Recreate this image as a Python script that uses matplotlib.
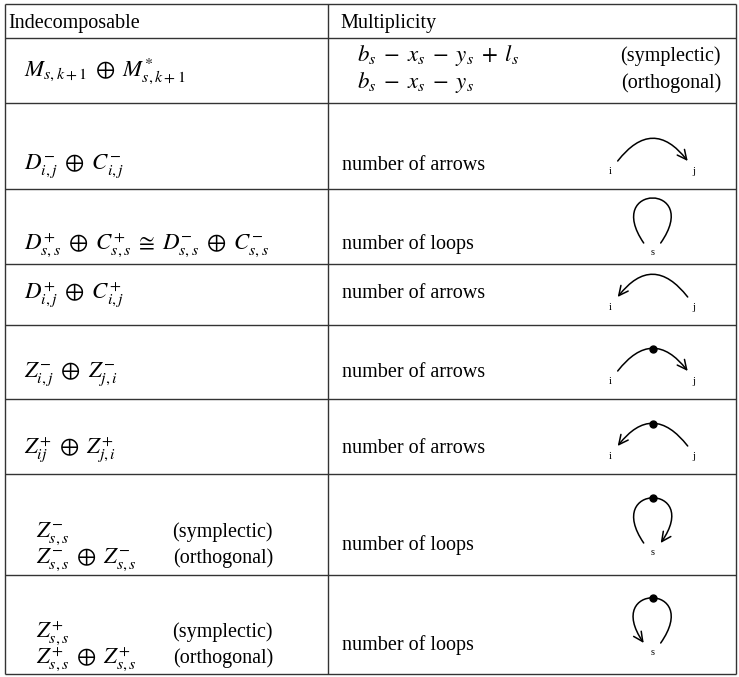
import matplotlib.pyplot as plt
from matplotlib.path import Path
from matplotlib.patches import FancyArrowPatch

plt.rcParams['font.family'] = ['Liberation Serif', 'DejaVu Serif']
plt.rcParams['mathtext.fontset'] = 'stix'

# --- содержимое таблицы ---
header = ['Indecomposable', 'Multiplicity']

left_single = [
    r'$M_{s,k+1} \;\oplus\; M^{*}_{s,k+1}$',
    r'$D^{-}_{i,j} \;\oplus\; C^{-}_{i,j}$',
    r'$D^{+}_{s,s} \;\oplus\; C^{+}_{s,s} \;\cong\; D^{-}_{s,s} \;\oplus\; C^{-}_{s,s}$',
    r'$D^{+}_{i,j} \;\oplus\; C^{+}_{i,j}$',
    r'$Z^{-}_{i,j} \;\oplus\; Z^{-}_{j,i}$',
    r'$Z^{+}_{ij} \;\oplus\; Z^{+}_{j,i}$',
]
left_pairs = [
    [r'$Z^{-}_{s,s}$', r'$Z^{-}_{s,s} \;\oplus\; Z^{-}_{s,s}$'],
    [r'$Z^{+}_{s,s}$', r'$Z^{+}_{s,s} \;\oplus\; Z^{+}_{s,s}$'],
]
form_labels = ['(symplectic)', '(orthogonal)']

mult_first = [r'$b_s \;-\; x_s \;-\; y_s \;+\; l_s$', r'$b_s \;-\; x_s \;-\; y_s$']
mult_rest = ['number of arrows', 'number of loops', 'number of arrows',
             'number of arrows', 'number of arrows', 'number of loops',
             'number of loops']

# схема-пиктограмма в каждой строке (начиная со 2-й)
pic_kind = ['arc', 'loop', 'arc', 'arc', 'arc', 'loop', 'loop']
pic_arrow = ['end', None, 'start', 'end', 'start', 'end', 'start']
pic_dot = [False, False, False, True, True, True, True]

# --- разметка (пиксели) ---
W, H = 739, 677
row_lines = [4, 38, 103, 189, 264, 325, 399, 474, 575, 674]
x_left, x_mid, x_right = 5, 328, 736
base_single = [76, 169, 249, 298, 377, 453]
base_pairs = [(537, 563), (637, 663)]
pic_base = [161, 243, 297, 371, 446, 543, 643]
cx = 652.7
FS = 14.5
FM = 16.5

fig = plt.figure(figsize=(W / 100, H / 100), dpi=100)
ax = fig.add_axes([0, 0, 1, 1])
ax.set_xlim(0, W)
ax.set_ylim(H, 0)
ax.axis('off')

ax.hlines(row_lines, x_left, x_right, color='#333333', lw=1.0)
ax.vlines([x_left, x_mid, x_right], row_lines[0], row_lines[-1],
          color='#333333', lw=1.0)

ax.text(8, 28, header[0], fontsize=FS, va='baseline')
ax.text(340, 28, header[1], fontsize=FS, va='baseline')

for txt, yb in zip(left_single, base_single):
    ax.text(24, yb, txt, fontsize=FM, va='baseline')

for pair, ys in zip(left_pairs, base_pairs):
    for txt, lab, yb in zip(pair, form_labels, ys):
        ax.text(36, yb, txt, fontsize=FM, va='baseline')
        ax.text(273, yb, lab, fontsize=FS, va='baseline', ha='right')

for txt, lab, yb in zip(mult_first, form_labels, (61, 88)):
    ax.text(357, yb, txt, fontsize=FM, va='baseline')
    ax.text(721, yb, lab, fontsize=FS, va='baseline', ha='right')

mult_base = [170, 249, 298, 377, 453] + [sum(p) / 2 for p in base_pairs]
for txt, yb in zip(mult_rest, mult_base):
    ax.text(342, yb, txt, fontsize=FS, va='baseline')


def style_for(arrow):
    if arrow == 'end':
        return '->,head_length=0.45,head_width=0.22'
    if arrow == 'start':
        return '<-,head_length=0.45,head_width=0.22'
    return '-'


def draw_arc(yb, arrow, dot):
    h = 22.4
    path = Path([(cx - 35, yb), (cx, yb - 2 * h), (cx + 35, yb)],
                [Path.MOVETO, Path.CURVE3, Path.CURVE3])
    ax.add_patch(FancyArrowPatch(path=path, arrowstyle=style_for(arrow),
                                 mutation_scale=15, lw=1.1, color='k'))
    if dot:
        ax.plot(cx, yb - h, 'o', ms=5, color='k')
    ax.text(cx - 42, yb + 13, 'i', fontsize=7.5, ha='center', va='baseline')
    ax.text(cx + 41, yb + 13, 'j', fontsize=7.5, ha='center', va='baseline')


def draw_loop(yb, arrow, dot):
    d, top = 50, yb - 60
    path = Path([(cx - 9, yb), (cx - d, top), (cx + d, top), (cx + 8, yb)],
                [Path.MOVETO, Path.CURVE4, Path.CURVE4, Path.CURVE4])
    ax.add_patch(FancyArrowPatch(path=path, arrowstyle=style_for(arrow),
                                 mutation_scale=15, lw=1.1, color='k'))
    if dot:
        ax.plot(cx, yb - 45, 'o', ms=5, color='k')
    ax.text(cx, yb + 12, 's', fontsize=7.5, ha='center', va='baseline')


for kind, arrow, dot, yb in zip(pic_kind, pic_arrow, pic_dot, pic_base):
    if kind == 'arc':
        draw_arc(yb, arrow, dot)
    else:
        draw_loop(yb, arrow, dot)

fig.savefig('out.png', dpi=100)
